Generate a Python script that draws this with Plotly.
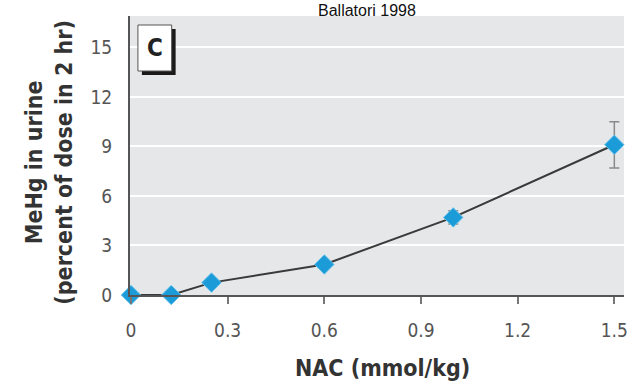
import plotly.graph_objects as go

nac = [0, 0.125, 0.25, 0.6, 1.0, 1.5]
mehg = [0, 0, 0.75, 1.85, 4.7, 9.1]
err = [0, 0, 0, 0, 0.4, 1.4]
xticks = [0, 0.3, 0.6, 0.9, 1.2, 1.5]
xticklabels = ["0", "0.3", "0.6", "0.9", "1.2", "1.5"]
yticks = [0, 3, 6, 9, 12, 15]
yticklabels = ["0", "3", "6", "9", "12", "15"]

NARROW = "DejaVu Sans Condensed, Liberation Sans Narrow, Arial Narrow, sans-serif"

fig = go.Figure()
fig.add_trace(go.Scatter(
    x=nac, y=mehg, mode="lines+markers",
    line=dict(color="#3a3a3a", width=2),
    marker=dict(symbol="diamond", size=15, color="#1b9bd7",
                line=dict(color="#6cc4ec", width=1)),
    error_y=dict(type="data", array=err, visible=True, color="#8a8a8a",
                 thickness=1.5, width=5),
    cliponaxis=False, showlegend=False,
))

W, H = 637, 386
L, R, T, B = 130, 9, 16, 91
pw, ph = W - L - R, H - T - B

def px(xp):
    return (xp - L) / pw

def py(yp):
    return (H - B - yp) / ph

fig.update_layout(
    width=W, height=H,
    margin=dict(l=L, r=R, t=T, b=B),
    paper_bgcolor="white",
    plot_bgcolor="#e6e7e8",
    font=dict(family=NARROW, color="#444"),
    xaxis=dict(range=[-0.003, 1.53], tickvals=xticks, ticktext=xticklabels,
               showgrid=False, zeroline=False, showline=True,
               linecolor="#555", linewidth=2, ticks="outside",
               ticklen=7, tickwidth=1.5, tickcolor="#777",
               tickfont=dict(size=19, color="#555", family=NARROW),
               ticklabelstandoff=10),
    yaxis=dict(range=[0, 16.9], tickvals=yticks, ticktext=yticklabels,
               showgrid=True, gridcolor="white", gridwidth=2,
               zeroline=False, showline=True, linecolor="#555", linewidth=2,
               ticks="outside", ticklen=12, tickcolor="rgba(0,0,0,0)",
               tickfont=dict(size=19, color="#555", family=NARROW)),
    shapes=[
        # shadow of panel label box
        dict(type="rect", xref="paper", yref="paper",
             x0=px(142), x1=px(176), y0=py(75), y1=py(29),
             fillcolor="#1a1a1a", line=dict(width=0), layer="above"),
        dict(type="rect", xref="paper", yref="paper",
             x0=px(138), x1=px(172), y0=py(71), y1=py(25),
             fillcolor="white", line=dict(color="#555", width=1), layer="above"),
    ],
    annotations=[
        dict(text="<b>C</b>", xref="paper", yref="paper", x=px(155), y=py(48),
             showarrow=False, font=dict(size=24, color="#222", family=NARROW),
             xanchor="center", yanchor="middle"),
        dict(text="<b>NAC (mmol/kg)</b>", xref="paper", yref="paper",
             x=px(385), y=py(368), showarrow=False,
             font=dict(size=23, color="#333", family=NARROW),
             xanchor="center", yanchor="middle"),
        dict(text="<b>MeHg in urine<br>(percent of dose in 2 hr)</b>",
             xref="paper", yref="paper", x=px(48), y=py(162),
             showarrow=False, textangle=-90,
             font=dict(size=23, color="#333", family=NARROW),
             xanchor="center", yanchor="middle"),
        dict(text="Ballatori 1998", xref="paper", yref="paper",
             x=px(369), y=py(0), showarrow=False,
             font=dict(size=16, color="#111", family="Liberation Sans, Arial, sans-serif"),
             xanchor="center", yanchor="top"),
    ],
)

fig.write_html("out.html")
